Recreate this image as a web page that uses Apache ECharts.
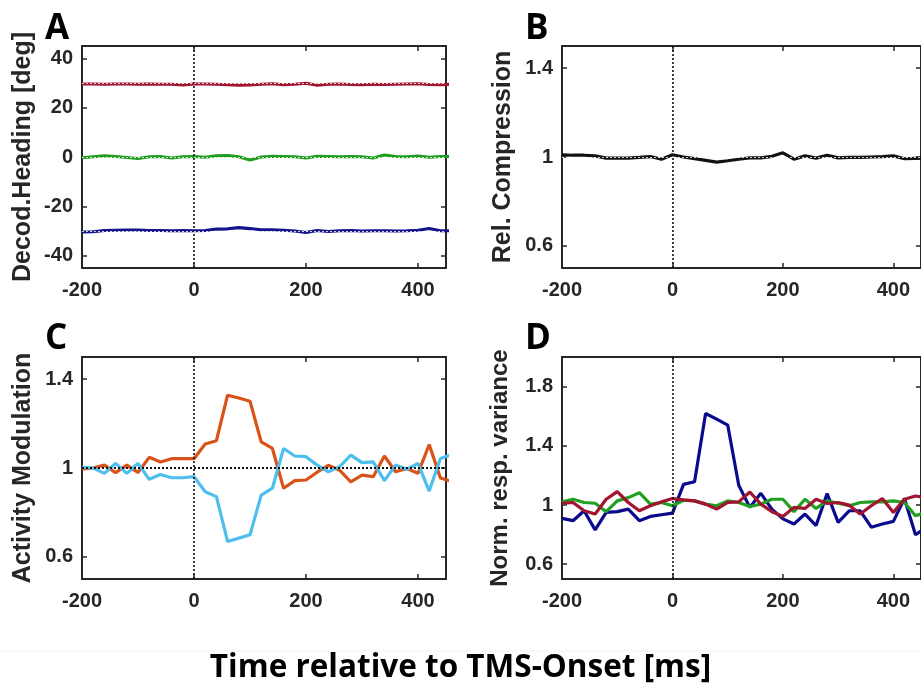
<!DOCTYPE html>
<html><head><meta charset="utf-8">
<script src="https://cdn.jsdelivr.net/npm/echarts@6/dist/echarts.min.js"></script>
<style>html,body{margin:0;padding:0;background:#fff}#c{width:921px;height:695px}</style>
</head><body><div id="c"></div>
<script>
// Time axis (ms)
const times = [-200,-180,-160,-140,-120,-100,-80,-60,-40,-20,0,20,40,60,80,100,120,140,160,180,200,220,240,260,280,300,320,340,360,380,400,420,440,460];
const xTicks = [-200,0,200,400];

// Panel A: decoded heading [deg]
const headRight = [29.6,29.6,29.5,29.6,29.6,29.5,29.6,29.5,29.5,29.2,29.6,29.6,29.5,29.3,29.1,29.2,29.5,29.7,29.3,29.5,29.9,29.1,29.5,29.6,29.4,29.3,29.5,29.4,29.5,29.6,29.7,29.4,29.3,29.5];
const headStraight = [-0.3,0.1,0.5,0.2,-0.2,-0.6,0.1,0.2,-0.4,0.1,0.2,-0.1,0.5,0.6,0.1,-1.2,0.0,0.3,0.2,0.1,-0.4,0.3,0.2,0.1,0.2,0.1,-0.4,0.8,0.2,0.1,0.4,-0.1,0.2,0.2];
const headLeft = [-30.4,-30.3,-29.8,-29.7,-29.6,-29.6,-29.8,-29.8,-29.9,-29.8,-29.9,-29.8,-29.2,-29.1,-28.6,-29.0,-29.5,-29.5,-29.7,-30.0,-30.6,-29.8,-30.2,-29.9,-29.8,-30.0,-29.9,-29.9,-30.0,-29.9,-29.7,-29.0,-29.9,-29.9];
const yTicksA = [-40,-20,0,20,40];

// Panel B: relative compression
const compression = [1.01,1.008,1.008,1.005,0.995,0.995,0.995,0.998,1.002,0.99,1.01,1.0,0.993,0.985,0.977,0.983,0.99,0.996,0.996,1.003,1.019,0.99,1.005,0.995,1.008,0.996,0.998,0.998,1.0,1.002,1.005,0.992,0.994,0.995];
const yTicksB = [0.6,1,1.4];

// Panel C: activity modulation
const modUp = [0.995,1.0,1.013,0.979,1.013,0.98,1.048,1.027,1.042,1.042,1.042,1.108,1.123,1.328,1.315,1.301,1.118,1.088,0.909,0.943,0.946,0.981,1.012,0.99,0.938,0.968,0.961,1.054,0.983,0.998,0.976,1.106,0.955,0.94];
const modDown = [1.003,1.0,0.976,1.021,0.976,1.021,0.949,0.971,0.956,0.956,0.961,0.893,0.871,0.669,0.684,0.699,0.878,0.909,1.088,1.054,1.051,1.013,0.983,1.006,1.058,1.024,1.028,0.943,1.013,0.994,1.021,0.896,1.043,1.06];
const yTicksC = [0.6,1,1.4];

// Panel D: normalized response variance
const varBlue = [0.91,0.894,0.961,0.832,0.95,0.955,0.972,0.894,0.923,0.934,0.945,1.139,1.157,1.618,1.58,1.54,1.134,0.984,1.079,0.972,0.906,0.872,0.939,0.861,1.077,0.883,0.961,0.961,0.85,0.872,0.889,1.044,0.799,0.85];
const varGreen = [1.021,1.039,1.017,1.012,0.955,1.028,1.05,1.083,1.006,1.017,0.995,1.032,1.028,1.006,0.995,1.028,1.017,0.99,1.006,1.039,1.039,0.955,1.039,0.977,1.028,1.012,0.995,1.017,1.021,1.021,1.028,1.017,0.928,0.95];
const varRed = [1.012,1.017,0.961,0.939,1.039,1.09,1.017,0.961,0.995,1.021,1.044,1.035,1.028,1.006,0.972,1.017,1.021,1.088,1.006,0.955,0.923,0.984,0.977,1.039,1.01,1.017,0.999,0.939,0.995,1.044,0.95,1.039,1.061,1.05];
const yTicksD = [0.6,1,1.4,1.8];

const axisNames = ['Decod.Heading [deg]','Rel. Compression','Activity Modulation','Norm. resp. variance'];
const panelLetters = ['A','B','C','D'];
const bottomTitle = 'Time relative to TMS-Onset [ms]';

const ink = '#262626';
const lblFont = {fontFamily:'Liberation Sans, Arial, sans-serif', fontWeight:'bold', fontSize:20, color:ink};

const grids = [
  {left:82, top:46, width:364, height:222},
  {left:562, top:46, width:363, height:222},
  {left:82, top:357, width:364, height:222},
  {left:562, top:357, width:363, height:222}
];
const yRanges = [[-45,45,yTicksA],[0.5,1.5,yTicksB],[0.5,1.5,yTicksC],[0.5,2.0,yTicksD]];

const xAxes = [], yAxes = [];
grids.forEach((g,i)=>{
  const common = {type:'value', gridIndex:i, min:-200, max:450, interval:200, splitLine:{show:false},
    axisLine:{show:true,onZero:false,lineStyle:{color:ink,width:2}},
    axisTick:{show:true,inside:true,length:5,lineStyle:{color:ink,width:1.5}}};
  xAxes.push(Object.assign({}, common, {position:'bottom', axisLabel:Object.assign({margin:12}, lblFont)}));
  xAxes.push(Object.assign({}, common, {position:'top', axisLabel:{show:false}}));
  const [mn,mx,ticks] = yRanges[i];
  const yc = {type:'value', gridIndex:i, min:mn, max:mx, splitLine:{show:false},
    axisLine:{show:true,onZero:false,lineStyle:{color:ink,width:2}},
    axisTick:{show:true,inside:true,length:5,customValues:ticks,lineStyle:{color:ink,width:1.5}}};
  yAxes.push(Object.assign({}, yc, {position:'left', name:axisNames[i], nameLocation:'middle', nameGap:i===3?50:46,
    nameTextStyle:{fontFamily:'Liberation Sans, Arial, sans-serif', fontWeight:'bold', fontSize:i===3?24:25, color:ink},
    axisLabel:Object.assign({margin:9, customValues:ticks, formatter:v=>String(v)}, lblFont)}));
  yAxes.push(Object.assign({}, yc, {position:'right', axisLabel:{show:false}}));
});

function pairs(arr){ return times.map((t,k)=>[t,arr[k]]); }
function vline(){ return {silent:true, symbol:'none', label:{show:false}, lineStyle:{color:'#111',type:[2,2],width:1.6}, data:[{xAxis:0}]}; }

const series = [];
function addLine(gi, data, color, extra){
  series.push(Object.assign({type:'line', xAxisIndex:gi*2, yAxisIndex:gi*2, data:pairs(data), showSymbol:false,
    lineStyle:{color:color,width:3.2}, itemStyle:{color:color}, clip:true, animation:false, z:3}, extra||{}));
}
function refLine(gi, yval, color, width){
  series.push({type:'line', xAxisIndex:gi*2, yAxisIndex:gi*2, data:[], animation:false, z:4,
    markLine:{silent:true, symbol:'none', label:{show:false}, lineStyle:{color:color,type:[2,2],width:width}, data:[{yAxis:yval}]}});
}
// A
addLine(0, headRight, '#a2142f', {markLine:vline()});
addLine(0, headStraight, '#1e9e1e');
addLine(0, headLeft, '#14148c');
refLine(0, 30, 'rgba(255,255,255,0.8)', 1);
refLine(0, 0, 'rgba(255,255,255,0.8)', 1);
refLine(0, -30, 'rgba(255,255,255,0.8)', 1);
// B
addLine(1, compression, '#111111', {markLine:vline()});
refLine(1, 1, 'rgba(255,255,255,0.8)', 1);
// C
addLine(2, modUp, '#d95319', {markLine:vline()});
addLine(2, modDown, '#4dbeee');
refLine(2, 1, '#111', 2);
// D
addLine(3, varBlue, '#0a0a8c', {markLine:vline()});
addLine(3, varGreen, '#22a022');
addLine(3, varRed, '#a2142f');

const letterPos = [[45,12],[525,12],[45,322],[525,322]];
const graphics = panelLetters.map((L,i)=>({type:'text', left:letterPos[i][0], top:letterPos[i][1],
  style:{text:L, font:'bold 35px "Open Sans", Lato, sans-serif', fill:'#000'}}));
graphics.push({type:'line', shape:{x1:0,y1:651,x2:921,y2:651}, style:{stroke:'#f3f3f3', lineWidth:1}});
graphics.push({type:'text', left:'center', top:652, style:{text:bottomTitle, font:'bold 31.5px "Open Sans", Lato, sans-serif', fill:'#000'}});

const chart = echarts.init(document.getElementById('c'), null, {renderer:'canvas'});
chart.setOption({
  backgroundColor:'#fff', animation:false,
  grid:grids, xAxis:xAxes, yAxis:yAxes, series:series, graphic:graphics
});
</script></body></html>
